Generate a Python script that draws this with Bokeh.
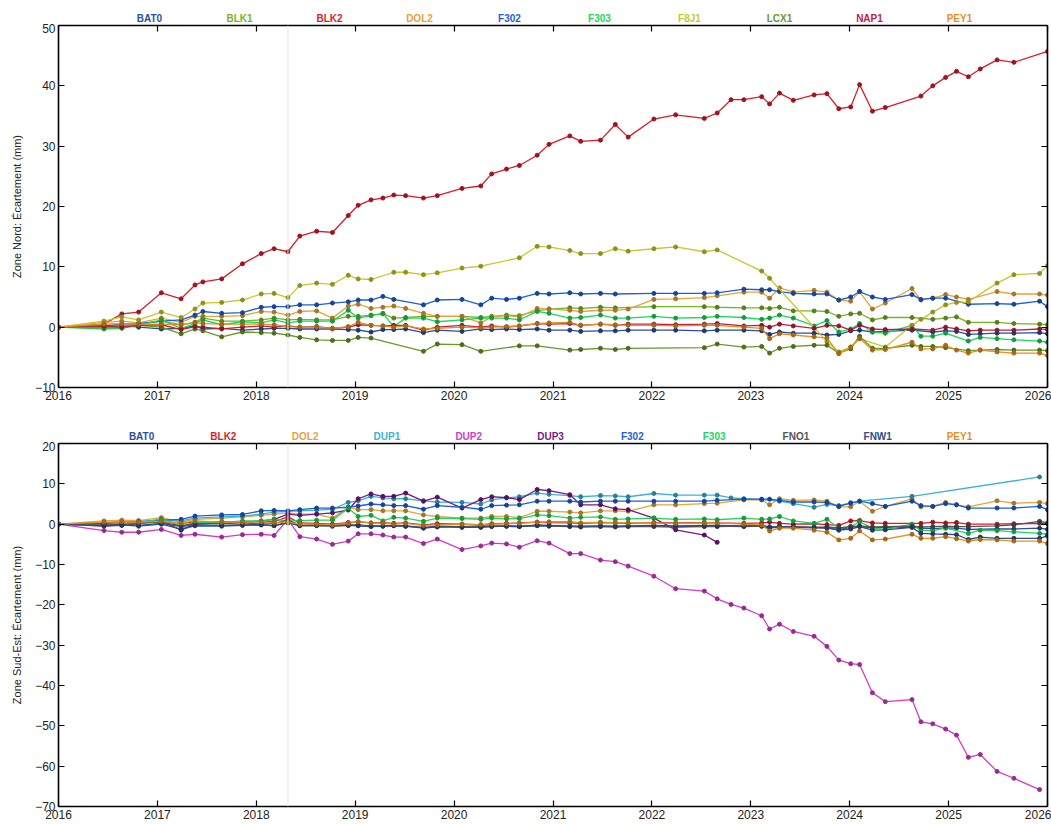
from bokeh.plotting import figure
from bokeh.layouts import column
from bokeh.models import Range1d, LinearAxis, FixedTicker, Span, ColumnDataSource
from bokeh.core.properties import value
from bokeh.embed import file_html
from bokeh.resources import INLINE

# ---------------- data ----------------
DATES = [2016.00, 2016.46, 2016.64, 2016.81, 2017.04, 2017.24, 2017.38, 2017.46,
         2017.65, 2017.86, 2018.05, 2018.18, 2018.32, 2018.44, 2018.61, 2018.77,
         2018.93, 2019.03, 2019.16, 2019.28, 2019.39, 2019.51, 2019.69, 2019.83,
         2020.08, 2020.27, 2020.38, 2020.53, 2020.66, 2020.84, 2020.96, 2021.17,
         2021.28, 2021.48, 2021.63, 2021.76, 2022.02, 2022.24, 2022.53, 2022.66,
         2022.80, 2022.93, 2023.11, 2023.19, 2023.29, 2023.43, 2023.64, 2023.77,
         2023.89, 2024.01, 2024.10, 2024.23, 2024.36, 2024.63, 2024.72, 2024.84,
         2024.97, 2025.08, 2025.20, 2025.32, 2025.49, 2025.66, 2025.92, 2026.00]

YEAR_TICKS = list(range(2016, 2027))

# --- Zone Nord ---
NORD_NAMES = ["BAT0", "BLK1", "BLK2", "DOL2", "F302", "F303", "F8J1", "LCX1", "NAP1", "PEY1"]
NORD_COLORS = ["#2c4f9e", "#78b428", "#d91e2a", "#e8a33a", "#1e5fd6", "#1ed75a",
               "#c8c82a", "#6a9a28", "#c0203e", "#e8901e"]

BAT0_N = [0, 0.1, 0.3, 0.0, -0.3, -0.2, 0.2, -0.3,
          -0.2, -0.5, -0.3, -0.2, -0.2, -0.3, -0.3, -0.3,
          -0.4, -0.5, -0.8, -0.4, -0.4, -0.3, -0.9, -0.5,
          -0.7, -0.3, -0.4, -0.3, -0.4, -0.3, -0.5, -0.5,
          -0.7, -0.6, -0.6, -0.5, -0.5, -0.5, -0.6, -0.5,
          None, -0.5, -0.6, -1.2, -0.8, -1.0, -1.0, -1.3,
          -1.2, -0.6, -0.5, -0.8, -0.7, -0.5, None, -0.8,
          -0.6, -0.7, -1.2, -1.1, -1.0, -1.0, -0.9, -1.1]
BLK1_N = [0, 0.3, 0.2, 0.5, 1.0, 0.4, 0.8, 1.5,
          1.0, 1.0, 1.2, 1.5, 1.2, 1.3, 1.2, 1.2,
          1.8, 1.8, 2.0, 2.2, 1.5, 1.6, 1.8, 1.8,
          1.8, 1.6, 1.8, 2.0, 1.9, 2.7, 3.0, 3.2,
          3.1, 3.3, 3.2, None, 3.4, None, 3.4, 3.3,
          None, 3.2, 3.2, 3.1, 3.3, 2.7, 2.7, 2.6,
          1.8, 2.2, 2.3, 1.2, 1.6, 1.6, None, 1.3,
          1.5, 1.7, 0.8, None, 0.8, 0.6, 0.5, 0.4]
BLK2_N = [0, 0.5, 2.2, 2.5, 5.7, 4.7, 7.0, 7.5,
          8.0, 10.5, 12.2, 13.0, 12.5, 15.1, 15.9, 15.7,
          18.5, 20.2, 21.1, 21.4, 21.9, 21.8, 21.4, 21.8,
          23.0, 23.4, 25.4, 26.2, 26.8, 28.5, 30.3, 31.7,
          30.8, 31.0, 33.6, 31.5, 34.5, 35.2, 34.6, 35.5,
          37.7, 37.7, 38.2, 37.0, 38.8, 37.6, 38.5, 38.7,
          36.2, 36.5, 40.2, 35.8, 36.4, None, 38.3, 40.0,
          41.4, 42.4, 41.5, 42.8, 44.3, 43.9, None, 45.7]
DOL2_N = [0, 0.8, 1.0, 0.7, 1.5, 0.8, 1.8, 1.8,
          1.8, 1.9, 2.6, 2.5, 2.0, 2.6, 2.7, 1.5,
          3.5, 3.8, 3.1, 3.3, 3.5, 3.1, 2.3, 1.8,
          1.8, 0.7, 1.7, 1.9, 1.7, 3.1, 3.0, 2.8,
          2.6, 2.8, 2.8, 3.0, 4.6, 4.7, 4.9, 5.2,
          None, 5.8, 5.8, 4.8, 6.5, 5.8, 6.1, 5.8,
          4.5, 4.3, 5.9, 3.0, 4.0, 6.4, 4.5, 4.8,
          5.4, 5.0, 4.6, None, 5.9, 5.5, 5.5, 5.3]
F302_N = [0, 0.2, 0.5, 0.6, 1.0, 1.2, 2.0, 2.6,
          2.3, 2.4, 3.3, 3.4, 3.4, 3.7, 3.7, 4.0,
          4.2, 4.5, 4.5, 5.1, 4.6, None, 3.7, 4.5,
          4.6, 3.7, 4.8, 4.6, 4.8, 5.6, 5.5, 5.7,
          5.5, 5.6, 5.5, None, 5.6, 5.6, 5.6, 5.7,
          None, 6.3, 6.2, 6.2, 5.9, 5.6, 5.5, 5.5,
          4.5, 5.0, 5.9, 5.0, 4.6, 5.4, 4.6, 4.8,
          4.8, None, 3.8, None, 3.9, 3.8, 4.3, 3.4]
F303_N = [0, -0.3, -0.2, 0.3, 1.2, -0.2, 0.6, 1.2,
          0.4, 0.9, 0.7, 1.2, 0.7, 1.0, 1.0, 1.0,
          2.8, 1.5, 1.9, 2.3, 0.1, 1.5, 1.5, 0.9,
          1.2, 1.5, 1.5, 1.5, 1.2, 2.6, 2.3, 1.5,
          1.6, 2.0, 1.5, 1.5, 1.8, 1.5, 1.6, 1.8,
          None, 1.6, 1.3, 1.5, 2.0, 1.5, 0.2, 1.1,
          -0.8, -0.3, 0.6, -0.8, -1.0, 0.3, -1.5, -1.5,
          -1.0, None, -2.3, -1.7, -1.9, -2.1, -2.3, -2.5]
F8J1_N = [0, 1.0, 1.7, 1.2, 2.5, 1.6, 3.0, 4.0,
          4.1, 4.5, 5.5, 5.6, 4.9, 6.9, 7.3, 7.1,
          8.6, 8.0, 7.9, None, 9.1, 9.1, 8.7, 9.0,
          9.8, 10.1, None, None, 11.5, 13.4, 13.3, 12.7,
          12.2, 12.2, 13.0, 12.6, 13.0, 13.3, 12.5, 12.8,
          None, None, 9.3, 8.1, None, None, None, -2.4,
          -4.1, -3.3, -1.9, None, -3.3, 0.3, 1.3, 2.5,
          3.7, 4.1, 4.2, None, 7.3, 8.7, 8.9, 10.2]
LCX1_N = [0, -0.1, 0.0, 0.3, 0.0, -1.1, -0.3, -0.6,
          -1.6, -0.8, -0.9, -1.0, -1.3, -1.7, -2.1, -2.2,
          -2.2, -1.7, -1.8, None, None, None, -4.0, -2.8,
          -2.9, -4.0, None, None, -3.1, -3.1, None, -3.8,
          -3.7, -3.5, -3.7, -3.5, None, None, -3.4, -2.8,
          None, -3.3, -3.2, -4.3, -3.5, -3.2, -3.0, -3.0,
          -4.3, -3.6, -1.5, -3.5, -3.5, -3.0, -3.2, -3.2,
          -3.4, None, -3.9, -3.8, -3.7, -3.8, -3.8, -3.9]
NAP1_N = [0, 0.2, 0.0, 0.3, 0.4, -0.4, 0.1, 0.0,
          -0.3, 0.0, 0.2, 0.0, 0.2, 0.0, 0.1, -0.2,
          0.0, 0.4, 0.3, 0.2, 0.3, 0.3, -0.5, 0.0,
          0.3, 0.0, 0.2, 0.0, 0.2, 0.6, 0.5, 0.6,
          0.3, 0.5, 0.3, 0.5, 0.5, 0.4, 0.5, 0.6,
          None, 0.2, 0.3, 0.0, 0.5, 0.2, -0.2, 0.3,
          0.2, -0.5, 0.3, -0.3, -0.4, -0.3, None, -0.5,
          0.0, -0.3, -0.6, -0.5, -0.5, -0.5, -0.3, -0.4]
PEY1_N = [0, 0.5, 0.6, 0.5, 0.5, 0.4, 0.8, 0.6,
          0.5, 0.5, 0.5, 0.4, 0.1, 0.0, 0.0, -0.2,
          0.1, 0.8, 0.3, 0.2, 0.0, 0.2, -0.3, -0.2,
          0.0, -0.1, 0.0, 0.1, 0.2, 0.6, 0.7, 0.8,
          0.3, 0.5, 0.4, 0.3, 0.3, 0.2, 0.3, 0.3,
          None, 0.0, -0.2, -1.9, -1.1, -1.3, -1.6, -1.8,
          -4.4, -3.3, -1.9, -3.8, -3.7, -2.5, -3.6, -3.6,
          -3.0, -3.8, -4.3, -3.8, -4.1, -4.3, -4.3, -4.7]

# --- Zone Sud-Est ---
SUD_NAMES = ["BAT0", "BLK2", "DOL2", "DUP1", "DUP2", "DUP3", "F302", "F303", "FNO1", "FNW1", "PEY1"]
SUD_COLORS = ["#2c4f9e", "#d91e2a", "#e8a33a", "#3ab4d4", "#d43cc8", "#7a1a84",
              "#1e5fd6", "#1ed75a", "#555555", "#2d4c8a", "#e8901e"]

BAT0_S = [0, -0.2, 0.1, -0.3, 0.2, -0.6, -0.2, None,
          -0.3, -0.2, -0.1, -0.3, 0.5, -0.3, -0.2, -0.4,
          -0.3, -0.2, -0.4, -0.5, -0.3, -0.4, -0.8, -0.5,
          -0.6, -0.4, -0.5, -0.4, -0.5, -0.3, -0.4, -0.5,
          -0.6, -0.5, -0.6, -0.5, -0.4, -0.6, -0.5, -0.5,
          None, -0.6, -0.5, -1.0, -0.7, -0.8, -0.9, -1.0,
          -1.3, -0.8, -0.6, -0.9, -0.8, -0.7, -1.0, -1.1,
          -0.9, -1.0, -1.3, None, -1.2, -1.2, -1.0, -1.3]
BLK2_S = [0, 0.3, 0.5, 0.4, 0.8, 0.2, 0.5, None,
          0.6, 0.5, 0.7, 0.6, 1.8, 0.3, 0.2, 0.0,
          0.4, 0.6, 0.3, 0.4, 0.2, 0.3, -0.2, 0.1,
          0.0, -0.2, 0.1, 0.2, 0.3, 0.5, 0.4, 0.3,
          0.2, 0.4, 0.3, 0.2, 0.4, 0.3, 0.4, 0.3,
          None, 0.2, 0.3, 0.5, 0.2, 0.0, 0.1, -0.1,
          -0.3, 0.8, 0.9, 0.3, 0.2, None, 0.2, 0.5,
          0.3, 0.4, 0.0, None, 0.0, 0.1, 0.2, 0.1]
DOL2_S = [0, 0.8, 1.0, 0.9, 1.6, 0.5, 1.2, None,
          1.5, 1.8, 2.2, 2.5, 2.8, 2.5, 2.5, 1.5,
          4.2, 3.6, 3.6, 3.3, 3.3, 3.3, 2.3, 1.9,
          1.5, 1.5, 1.9, 1.9, 1.6, 3.2, 3.2, 3.0,
          2.8, 3.3, 3.3, 3.2, 4.8, 4.8, 5.1, 5.2,
          None, 6.0, 6.0, 4.8, 6.3, 5.9, 6.0, 5.7,
          4.3, 4.3, 5.7, 3.2, 4.4, 6.3, 4.3, 4.4,
          5.4, 4.8, 4.3, None, 5.8, 5.2, 5.4, 5.1]
DUP1_S = [0, 0.2, 0.5, 0.5, 1.0, 0.8, 1.5, None,
          1.8, 2.0, 2.5, 3.0, 3.2, 3.3, 3.5, 3.7,
          5.4, 5.8, 6.9, 6.5, 6.3, 6.3, 5.8, 5.5,
          5.4, 5.0, 6.0, 6.5, 6.8, 7.7, 7.4, 7.1,
          6.8, 7.1, 7.0, 6.8, 7.6, 7.2, 7.2, 7.2,
          6.5, 6.3, 6.1, None, 5.7, 5.1, 4.2, 4.9,
          4.6, 5.3, 5.7, None, None, 6.9, None, None,
          None, None, None, None, None, None, 11.7, None]
DUP2_S = [0, -1.6, -2.0, -2.0, -1.3, -2.8, -2.5, None,
          -3.2, -2.6, -2.5, -2.8, 1.2, -3.1, -3.7, -5.0,
          -4.2, -2.4, -2.4, -2.7, -3.2, -3.2, -4.8, -3.7,
          -6.3, -5.4, -4.7, -4.9, -5.7, -4.1, -4.7, -7.3,
          -7.3, -8.9, -9.3, -10.4, -12.9, -16.0, -16.6, -18.5,
          -19.9, -20.8, -22.7, -26.0, -24.8, -26.6, -27.8, -30.3,
          -33.7, -34.6, -34.8, -41.8, -44.0, -43.5, -49.0, -49.5,
          -50.8, -52.3, -57.8, -57.1, -61.3, -63.0, -65.8, None]
DUP3_S = [0, -0.5, -0.3, 0.2, 0.8, -1.5, 0.0, None,
          0.3, 0.5, 0.8, 1.2, 2.5, 2.2, 2.5, 2.8,
          3.5, 6.3, 7.5, 6.9, 6.9, 7.7, 5.7, 6.7,
          4.0, 6.1, 6.8, 6.6, 6.1, 8.6, 8.3, 7.3,
          4.8, 4.8, 3.8, 3.6, 1.5, -1.4, -2.7, -4.5]
F302_S = [0, 0.3, 0.5, 0.6, 1.0, 1.2, 2.0, None,
          2.3, 2.4, 3.3, 3.4, 3.3, 3.6, 4.0, 4.0,
          4.2, 4.5, 5.0, 4.8, 4.6, 4.6, 3.7, 4.6,
          4.2, 3.7, 4.6, 4.7, 4.8, 5.7, 5.7, 5.7,
          5.5, 5.7, 5.7, 5.7, 5.7, 5.7, 5.7, 5.9,
          None, 6.2, 6.2, 6.2, 5.9, 5.5, 5.5, 5.4,
          4.4, 5.2, 5.7, 5.1, 4.4, 5.7, 4.6, 4.4,
          5.1, 4.8, 4.0, None, 4.0, 4.0, 4.4, 3.6]
F303_S = [0, -0.3, 0.0, 0.3, 1.3, -0.5, 0.5, None,
          0.4, 0.8, 0.8, 1.2, 0.8, 0.9, 1.0, 1.0,
          4.0, 1.9, 2.2, 0.8, 1.7, 1.5, 0.7, 1.5,
          1.4, 1.2, 1.5, 1.3, 1.4, 2.3, 2.1, 1.5,
          1.7, 1.8, 1.2, 1.3, 1.5, 1.2, 1.3, 1.1,
          None, 1.5, 1.2, 1.3, 1.9, 0.8, 0.2, 1.2,
          -1.0, -0.6, 0.6, -1.0, -1.3, 0.0, -1.5, -1.6,
          -1.0, None, -2.3, -1.5, -1.6, -1.9, -2.3, -2.5]
FNO1_S = [0, 0.1, -0.2, 0.2, 0.5, -0.4, 0.1, None,
          0.2, 0.0, 0.3, 0.2, 1.0, -0.2, -0.3, -0.2,
          -0.1, -0.3, -0.5, -0.4, -0.3, -0.5, -0.9, -0.7,
          -0.6, -0.8, -0.6, -0.5, -0.6, -0.4, -0.5, -0.6,
          -0.7, -0.6, -0.7, -0.6, -0.6, -0.7, -0.6, -0.6,
          None, -0.5, -0.5, -0.8, -0.6, -0.7, -0.8, -0.7,
          -0.9, -0.6, -0.4, -0.7, -0.6, -0.5, -0.7, -0.6,
          -0.5, -0.6, -0.6, None, -0.4, -0.2, 0.7, 0.3]
FNW1_S = [0, -0.4, -0.2, -0.5, 0.0, -1.2, -0.4, None,
          -0.5, -0.3, -0.2, -0.4, 0.3, -0.4, -0.4, -0.5,
          -0.3, -0.4, -0.6, -0.5, -0.4, -0.5, -1.0, -0.6,
          -0.8, -0.7, -0.5, -0.5, -0.6, -0.2, -0.3, -0.5,
          -0.5, -0.4, -0.5, -0.4, -0.3, -0.4, -0.3, -0.3,
          None, -0.4, -0.3, -0.7, -0.6, -0.6, -0.8, -0.9,
          -1.5, -1.2, -0.6, -1.5, -1.4, -0.8, -2.3, -2.4,
          -2.5, -2.6, -3.8, -3.2, -3.5, -3.5, -3.5, -2.9]
PEY1_S = [0, 0.5, 0.6, 0.5, 0.7, 0.3, 0.8, None,
          0.5, 0.5, 0.6, 0.4, 0.5, 0.0, 0.0, -0.2,
          0.2, 0.6, 0.3, 0.2, 0.0, 0.2, -0.3, -0.2,
          0.0, -0.1, 0.0, 0.1, 0.2, 0.5, 0.6, 0.6,
          0.3, 0.5, 0.4, 0.3, 0.3, 0.2, 0.3, 0.3,
          None, 0.0, -0.2, -1.7, -1.0, -1.0, -1.5, -2.0,
          -3.9, -3.5, -1.7, -3.9, -3.7, -2.5, -3.5, -3.5,
          -3.1, -3.6, -4.2, -3.8, -3.9, -4.2, -4.2, -4.8]

NORD_SERIES = [BAT0_N, BLK1_N, BLK2_N, DOL2_N, F302_N, F303_N, F8J1_N, LCX1_N, NAP1_N, PEY1_N]
SUD_SERIES = [BAT0_S, BLK2_S, DOL2_S, DUP1_S, DUP2_S, DUP3_S, F302_S, F303_S, FNO1_S, FNW1_S, PEY1_S]

FONT = "Liberation Sans"
X_RANGE = Range1d(2016, 2026)


def shade(h, f):
    h = h.lstrip("#")
    r, g, b = int(h[0:2], 16), int(h[2:4], 16), int(h[4:6], 16)
    return "#%02x%02x%02x" % (int(r * f), int(g * f), int(b * f))


def style_axis(ax, show_labels, ticks):
    ax.ticker = FixedTicker(ticks=ticks)
    ax.axis_line_color = "black"
    ax.axis_line_width = 1.6
    ax.major_tick_line_color = "black"
    ax.major_tick_line_width = 1.2
    ax.major_tick_in = 6
    ax.major_tick_out = 0
    ax.minor_tick_in = 0
    ax.minor_tick_out = 0
    ax.major_label_text_font = FONT
    if show_labels:
        ax.major_label_text_color = "#222222"
        ax.major_label_text_font_size = "12px"
        ax.major_label_standoff = 3
    else:
        ax.major_label_text_color = None
        ax.major_label_text_font_size = "0px"
        ax.major_label_standoff = 0


def label_row(names, colors, x0, dx, height, ypos):
    lf = figure(width=1051, height=height, x_range=X_RANGE, y_range=Range1d(0, 1),
                output_backend="svg", toolbar_location=None,
                min_border_left=58, min_border_right=4, min_border_top=0,
                min_border_bottom=0)
    lf.axis.visible = False
    lf.xgrid.visible = False
    lf.ygrid.visible = False
    lf.outline_line_color = None
    src = ColumnDataSource(dict(x=[x0 + i * dx for i in range(len(names))],
                                y=[ypos] * len(names), text=names, color=colors))
    lf.text(x="x", y="y", text="text", text_color="color", source=src,
            text_font=value(FONT), text_font_size="10px", text_font_style="bold",
            text_align="center", text_baseline="middle")
    return lf


def make_panel(names, series, colors, ymin, ymax, ylabel, height, border_top, border_bottom):
    p = figure(width=1051, height=height, x_range=X_RANGE,
               y_range=Range1d(ymin, ymax), output_backend="svg",
               toolbar_location=None, min_border_left=58, min_border_right=4,
               min_border_top=border_top, min_border_bottom=border_bottom)
    p.xgrid.visible = False
    p.ygrid.visible = False
    p.outline_line_color = None

    yt = list(range(ymin, ymax + 1, 10))
    style_axis(p.xaxis[0], True, YEAR_TICKS)
    style_axis(p.yaxis[0], True, yt)
    p.yaxis[0].axis_label = ylabel
    p.yaxis[0].axis_label_text_font = FONT
    p.yaxis[0].axis_label_text_font_size = "11px"
    p.yaxis[0].axis_label_text_font_style = "normal"
    p.yaxis[0].axis_label_text_color = "#222222"
    p.yaxis[0].axis_label_standoff = 9

    top = LinearAxis()
    style_axis(top, False, YEAR_TICKS)
    p.add_layout(top, "above")
    right = LinearAxis()
    style_axis(right, False, yt)
    p.add_layout(right, "right")

    p.add_layout(Span(location=2018.32, dimension="height", line_color="#e4e4e4",
                      line_width=1))

    for name, vals, col in zip(names, series, colors):
        xs = [d for d, v in zip(DATES, vals) if v is not None]
        ys = [v for d, v in zip(DATES, vals) if v is not None]
        p.line(xs, ys, line_color=col, line_width=1.3)
        dk = shade(col, 0.72)
        p.scatter(xs, ys, marker="circle", size=4, fill_color=dk, line_color=dk)
    return p


l1 = label_row(NORD_NAMES, NORD_COLORS, 2016.92, 0.91, 23, 0.2)
p1 = make_panel(NORD_NAMES, NORD_SERIES, NORD_COLORS, -10, 50,
                "Zone Nord: Écartement (mm)", 389, 2, 25)
l2 = label_row(SUD_NAMES, SUD_COLORS, 2016.84, 0.827, 29, 0.17)
p2 = make_panel(SUD_NAMES, SUD_SERIES, SUD_COLORS, -70, 20,
                "Zone Sud-Est: Écartement (mm)", 383, 2, 18)

layout = column(l1, p1, l2, p2, spacing=0)
open("out.html", "w").write(file_html(layout, INLINE))
